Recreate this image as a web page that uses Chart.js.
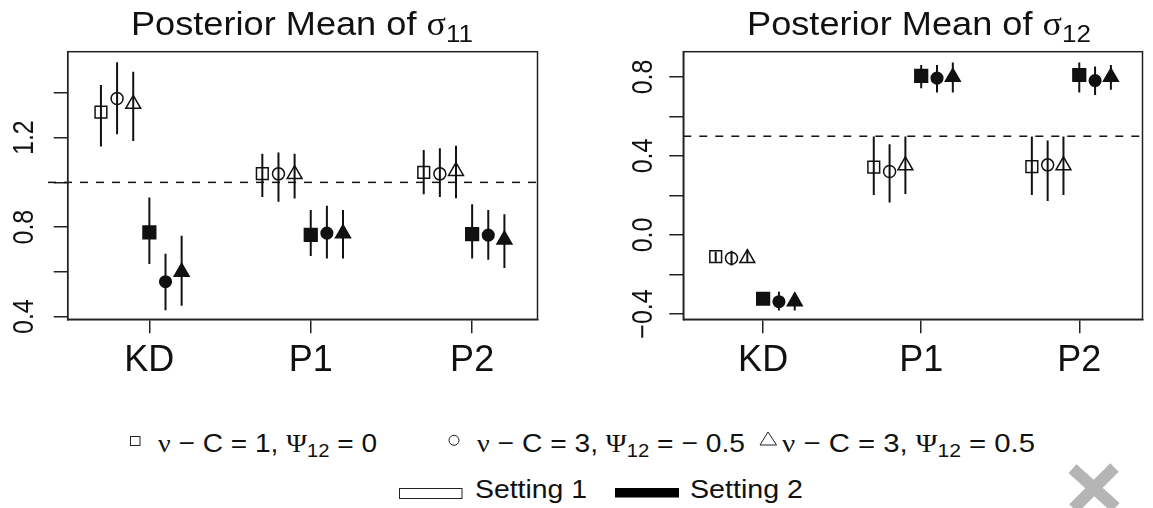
<!DOCTYPE html>
<html>
<head>
<title>Posterior Mean of sigma</title>
<script src="https://cdn.jsdelivr.net/npm/chart.js"></script>
<style>
  body { margin: 0; background: #fff; font-family: "Liberation Sans", Arial, sans-serif; color: #111; }
  #wrap { position: relative; width: 1153px; height: 508px; overflow: hidden; }
  canvas { position: absolute; top: 0; }
  .title { position: absolute; top: 6px; font-size: 34px; line-height: 1; white-space: nowrap; transform-origin: 0 0; }
  .gr { font-family: "Liberation Serif", serif; }
  .sub { font-size: 0.72em; position: relative; top: 0.28em; }
  .leg { position: absolute; white-space: nowrap; line-height: 1; transform-origin: 0 0; }
  .sym { position: absolute; overflow: visible; }
  .xmark { position: absolute; width: 58px; height: 12px; background: #b5b5b5; left: 1065px; top: 482px; }
</style>
</head>
<body>
<div id="wrap">
  <canvas id="c11" width="576" height="400" style="left:0"></canvas>
  <canvas id="c12" width="577" height="400" style="left:576px"></canvas>

  <div class="title fit" data-w="342" style="left:131px">Posterior Mean of <span class="gr">σ</span><span class="sub">11</span></div>
  <div class="title fit" data-w="344" style="left:747px">Posterior Mean of <span class="gr">σ</span><span class="sub">12</span></div>

  <svg class="sym" style="left:130px;top:436px" width="11" height="11"><rect x="0.5" y="0.5" width="9.5" height="9" fill="none" stroke="#222" stroke-width="1"/></svg>
  <div class="leg fit" data-w="219" style="left:158px;top:430px;font-size:26px"><span class="gr">ν</span> − C = 1, <span class="gr">Ψ</span><span class="sub">12</span> = 0</div>
  <svg class="sym" style="left:448px;top:434px" width="13" height="13"><circle cx="6" cy="6.3" r="5" fill="none" stroke="#222" stroke-width="1"/></svg>
  <div class="leg fit" data-w="268" style="left:477px;top:430px;font-size:26px"><span class="gr">ν</span> − C = 3, <span class="gr">Ψ</span><span class="sub">12</span> = − 0.5</div>
  <svg class="sym" style="left:759px;top:431px" width="19" height="15"><polygon points="9,1 1,14 17.5,14" fill="none" stroke="#222" stroke-width="1"/></svg>
  <div class="leg fit" data-w="253" style="left:782px;top:430px;font-size:26px"><span class="gr">ν</span> − C = 3, <span class="gr">Ψ</span><span class="sub">12</span> = 0.5</div>

  <svg class="sym" style="left:399px;top:488px" width="64" height="12"><rect x="0.5" y="0.5" width="62.5" height="10" fill="none" stroke="#222" stroke-width="1"/></svg>
  <div class="leg fit" data-w="112" style="left:475px;top:477px;font-size:25px">Setting 1</div>
  <svg class="sym" style="left:615px;top:488px" width="65" height="10"><rect x="0" y="0" width="64" height="9.5" fill="#000"/></svg>
  <div class="leg fit" data-w="113" style="left:690px;top:477px;font-size:25px">Setting 2</div>

  <div class="xmark" style="transform:rotate(42deg)"></div>
  <div class="xmark" style="transform:rotate(-45deg)"></div>
</div>

<script>
// categories on the x axis
const categories = ['KD', 'P1', 'P2'];

// series order: Setting 1 (open) square, circle, triangle; Setting 2 (filled) square, circle, triangle
const seriesLabels = [
  'Setting 1: ν−C=1, Ψ12=0', 'Setting 1: ν−C=3, Ψ12=−0.5', 'Setting 1: ν−C=3, Ψ12=0.5',
  'Setting 2: ν−C=1, Ψ12=0', 'Setting 2: ν−C=3, Ψ12=−0.5', 'Setting 2: ν−C=3, Ψ12=0.5'
];

// sigma_11 posterior means and intervals (rows = series, cols = KD, P1, P2)
const sig11Mean = [
  [1.314, 1.039, 1.045],
  [1.375, 1.038, 1.038],
  [1.350, 1.036, 1.050],
  [0.776, 0.765, 0.769],
  [0.556, 0.773, 0.764],
  [0.600, 0.772, 0.744]
];
const sig11Lower = [
  [1.160, 0.935, 0.947],
  [1.215, 0.913, 0.935],
  [1.185, 0.928, 0.929],
  [0.635, 0.671, 0.660],
  [0.428, 0.660, 0.654],
  [0.449, 0.660, 0.617]
];
const sig11Upper = [
  [1.435, 1.128, 1.145],
  [1.537, 1.134, 1.152],
  [1.494, 1.128, 1.164],
  [0.932, 0.877, 0.902],
  [0.681, 0.895, 0.877],
  [0.761, 0.877, 0.858]
];

// sigma_12 posterior means and intervals
const sig12Mean = [
  [-0.110, 0.343, 0.346],
  [-0.118, 0.321, 0.355],
  [-0.118, 0.352, 0.352],
  [-0.323, 0.806, 0.810],
  [-0.338, 0.794, 0.782],
  [-0.336, 0.800, 0.800]
];
const sig12Lower = [
  [-0.135, 0.203, 0.203],
  [-0.155, 0.164, 0.172],
  [-0.140, 0.208, 0.203],
  [-0.345, 0.743, 0.721],
  [-0.383, 0.721, 0.709],
  [-0.383, 0.721, 0.735]
];
const sig12Upper = [
  [-0.085, 0.498, 0.498],
  [-0.080, 0.460, 0.478],
  [-0.075, 0.498, 0.498],
  [-0.300, 0.861, 0.873],
  [-0.287, 0.861, 0.853],
  [-0.300, 0.873, 0.861]
];

// true values (dashed lines)
const trueValues = [1.0, 0.5];

// y axis ticks and labelled ticks
const yTicks11 = [0.4, 0.6, 0.8, 1.0, 1.2, 1.4];
const yLabels11 = [0.4, 0.8, 1.2];
const yTicks12 = [-0.4, -0.2, 0.0, 0.2, 0.4, 0.6, 0.8];
const yLabels12 = [-0.4, 0.0, 0.4, 0.8];

const dodge = [-0.3, -0.2, -0.1, 0, 0.1, 0.2];
const shapes = ['rect', 'circle', 'triangle', 'rect', 'circle', 'triangle'];
const radii = [8.3, 6, 8.6, 9, 5.8, 8.6];
const filled = [false, false, false, true, true, true];
const ink = '#111';

// stretch html texts to the widths seen in the reference
document.querySelectorAll('.fit').forEach(el => {
  const w = el.getBoundingClientRect().width;
  el.style.transform = 'scaleX(' + (Number(el.dataset.w) / w) + ')';
});

function fmt(v) {
  return (v < 0 ? '\u2212' : '') + Math.abs(v).toFixed(1);
}

function makeDatasets(mean, lower, upper, refVal, refStart, xMax) {
  const ds = [];
  mean.forEach((row, s) => {
    ds.push({
      label: seriesLabels[s],
      data: row.map((v, i) => ({ x: i + 1 + dodge[s], y: v })),
      pointStyle: shapes[s],
      pointRadius: radii[s],
      pointBorderWidth: 1.5,
      pointBorderColor: ink,
      pointBackgroundColor: filled[s] ? ink : 'rgba(0,0,0,0)',
      showLine: false
    });
  });
  mean.forEach((row, s) => {
    const pts = [];
    row.forEach((v, i) => {
      const x = i + 1 + dodge[s];
      pts.push({ x: x, y: lower[s][i] }, { x: x, y: upper[s][i] }, { x: x, y: null });
    });
    ds.push({
      label: seriesLabels[s] + ' interval',
      data: pts,
      showLine: true,
      spanGaps: false,
      borderColor: ink,
      borderWidth: 2,
      pointRadius: 0
    });
  });
  ds.push({
    label: 'true value',
    data: [{ x: refStart, y: refVal }, { x: xMax, y: refVal }],
    showLine: true,
    borderColor: ink,
    borderWidth: 1.5,
    borderDash: [8, 8],
    pointRadius: 0,
    clip: false
  });
  return ds;
}

function framePlugin(labelVals, labelX) {
  return {
    id: 'frameLabels',
    afterDraw(chart) {
      const { ctx, chartArea: a } = chart;
      const y = chart.scales.y;
      ctx.save();
      ctx.strokeStyle = '#222';
      ctx.lineWidth = 1.5;
      ctx.strokeRect(a.left, a.top, a.right - a.left, a.bottom - a.top);
      const fs = 25;
      ctx.fillStyle = ink;
      ctx.font = fs + 'px "Liberation Sans", Arial, sans-serif';
      ctx.textAlign = 'center';
      ctx.textBaseline = 'alphabetic';
      labelVals.forEach(v => {
        ctx.save();
        ctx.translate(labelX, y.getPixelForValue(v));
        ctx.rotate(-Math.PI / 2);
        ctx.scale(1, 1.15);
        ctx.fillText(fmt(v), 0, 0.36 * fs);
        ctx.restore();
      });
      ctx.restore();
    }
  };
}

function makeChart(id, cfg) {
  return new Chart(document.getElementById(id), {
    type: 'scatter',
    data: { datasets: makeDatasets(cfg.mean, cfg.lower, cfg.upper, cfg.ref, cfg.refStart, cfg.xMax) },
    options: {
      responsive: false,
      animation: false,
      events: [],
      layout: { padding: { top: cfg.top, right: cfg.right, left: 0, bottom: 0 } },
      plugins: { legend: { display: false }, tooltip: { enabled: false } },
      scales: {
        x: {
          type: 'linear',
          min: cfg.xMin,
          max: cfg.xMax,
          afterBuildTicks: s => { s.ticks = categories.map((c, i) => ({ value: i + 1 })); },
          afterFit: s => { s.height = cfg.xAxisH; },
          ticks: {
            callback: v => categories[Math.round(v) - 1],
            font: { size: 36, family: '"Liberation Sans", Arial, sans-serif' },
            color: ink,
            padding: 6,
            maxRotation: 0
          },
          grid: { drawOnChartArea: false, drawTicks: true, tickLength: 14, color: '#222', lineWidth: 1.5 },
          border: { display: true, color: '#222', width: 1.5 }
        },
        y: {
          type: 'linear',
          min: cfg.yMin,
          max: cfg.yMax,
          afterBuildTicks: s => { s.ticks = cfg.yTicks.map(v => ({ value: v })); },
          afterFit: s => { s.width = cfg.yAxisW; },
          ticks: { display: false },
          grid: { drawOnChartArea: false, drawTicks: true, tickLength: 14, color: '#222', lineWidth: 1.5 },
          border: { display: true, color: '#222', width: 1.5 }
        }
      }
    },
    plugins: [framePlugin(cfg.yLabels, cfg.labelX)]
  });
}

makeChart('c11', {
  mean: sig11Mean, lower: sig11Lower, upper: sig11Upper, ref: trueValues[0],
  refStart: 0.372, xMin: 0.494, xMax: 3.405, yMin: 0.388, yMax: 1.584,
  yTicks: yTicks11, yLabels: yLabels11, labelX: 22.5,
  top: 51.7, right: 38.5, xAxisH: 80.7, yAxisW: 67.7
});

makeChart('c12', {
  mean: sig12Mean, lower: sig12Lower, upper: sig12Upper, ref: trueValues[1],
  refStart: 0.495, xMin: 0.495, xMax: 3.40, yMin: -0.427, yMax: 0.928,
  yTicks: yTicks12, yLabels: yLabels12, labelX: 66,
  top: 51.7, right: 1.3, xAxisH: 80.7, yAxisW: 107.3
});
</script>
</body>
</html>
